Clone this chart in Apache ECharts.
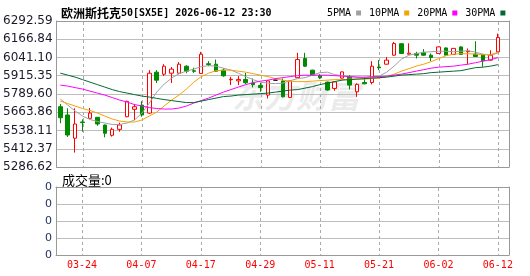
<!DOCTYPE html>
<html><head><meta charset="utf-8">
<script src="https://cdn.jsdelivr.net/npm/echarts@6/dist/echarts.min.js"></script>
<style>html,body{margin:0;padding:0;background:#fff}#c{width:530px;height:276px}</style>
</head><body><div id="c"></div>
<script>
const dates = ['03-19','03-20','03-23','03-24','03-25','03-26','03-27','03-30','03-31','04-01','04-02','04-07','04-08','04-09','04-10','04-13','04-14','04-15','04-16','04-17','04-20','04-21','04-22','04-23','04-24','04-27','04-28','04-29','04-30','05-01','05-04','05-05','05-06','05-07','05-08','05-11','05-12','05-13','05-14','05-15','05-18','05-19','05-20','05-21','05-22','05-25','05-26','05-27','05-28','05-29','06-01','06-02','06-03','06-04','06-05','06-08','06-09','06-10','06-11','06-12'];
const labelDates = ['03-24','04-07','04-17','04-29','05-11','05-21','06-02','06-12'];
// [open, close, low, high]
const ohlc = [
[5702,5626,5588,5720],[5645,5507,5494,5691],[5485,5583,5386,5691],[5597,5592,5530,5615],[5622,5658,5620,5693],
[5629,5583,5571,5631],[5576,5519,5491,5579],[5505,5546,5496,5558],[5546,5576,5530,5592],[5633,5739,5630,5744],
[5684,5702,5610,5720],[5713,5645,5633,5740],[5658,5933,5652,5954],[5940,5885,5865,5954],[5926,5981,5913,5995],
[5933,5961,5865,5975],[5933,5995,5926,6009],[5981,5947,5933,5988],[5950,5946,5935,5971],[5931,6064,5930,6080],
[5998,5993,5981,6016],[5995,5947,5944,6027],[5954,5915,5908,5966],[5888,5891,5851,5908],[5880,5890,5851,5913],
[5890,5867,5858,5935],[5865,5854,5835,5897],[5849,5834,5805,5867],[5782,5880,5759,5883],[5885,5885,5885,5885],
[5880,5770,5766,5897],[5766,5880,5765,5885],[5902,6027,5899,6073],[6034,5981,5977,6073],[5954,5920,5916,5957],
[5917,5902,5892,5926],[5871,5817,5813,5875],[5828,5873,5812,5875],[5899,5942,5896,5944],[5908,5851,5821,5920],
[5805,5856,5770,5863],[5869,5860,5856,5908],[5869,5981,5856,6016],[5975,5970,5954,6023],[5995,6023,5993,6045],
[6057,6137,6053,6148],[6136,6069,6067,6139],[6064,6071,6062,6139],[6069,6057,6034,6080],[6076,6057,6053,6099],
[6057,6041,6016,6069],[6069,6114,6067,6117],[6107,6057,6055,6110],[6062,6104,6060,6106],[6114,6062,6060,6117],
[6081,6086,5993,6103],[6065,6048,6045,6153],[6062,6019,5977,6064],[6023,6057,6020,6091],[6080,6179,6079,6206]
];
const ma5 = [5754.7,5713.4,5672.2,5637.9,5613.8,5600.1,5589.8,5579.5,5579.5,5589.8,5610.4,5658.5,5727.2,5802.7,5857.7,5898.9,5929.8,5947.0,5960.8,5978.0,5984.8,5981.4,5967.6,5953.9,5933.3,5909.3,5888.6,5871.4,5864.6,5861.1,5864.6,5881.8,5895.5,5902.3,5919.5,5936.7,5940.1,5923.0,5916.1,5909.3,5905.8,5902.3,5902.3,5912.7,5940.1,5981.4,6029.5,6056.9,6067.2,6077.5,6081.0,6084.4,6084.4,6081.0,6084.4,6087.8,6077.5,6063.8,6056.9,6070.7];
const ma10 = [5740.9,5723.7,5706.6,5689.4,5675.6,5658.5,5637.9,5617.3,5603.5,5596.6,5596.6,5610.4,5637.9,5665.3,5706.6,5747.8,5782.1,5823.4,5871.4,5909.3,5933.3,5950.4,5953.9,5953.9,5947.0,5940.1,5929.8,5919.5,5909.3,5895.5,5885.2,5878.3,5874.8,5874.8,5878.3,5881.8,5885.2,5888.6,5888.6,5892.1,5892.1,5892.1,5895.5,5898.9,5909.3,5926.4,5947.0,5964.2,5981.4,5995.1,6012.3,6032.9,6053.5,6063.8,6067.2,6067.2,6063.8,6060.3,6060.3,6077.5];
const ma20 = [5850.8,5844.0,5833.6,5823.4,5809.6,5795.9,5782.1,5765.0,5747.8,5734.0,5716.8,5706.6,5696.2,5689.4,5686.0,5686.0,5692.8,5706.6,5727.2,5744.3,5761.5,5782.1,5802.7,5819.9,5837.1,5854.2,5868.0,5878.3,5885.2,5895.5,5902.3,5909.3,5916.1,5919.5,5919.5,5919.5,5919.5,5916.1,5912.7,5909.3,5905.8,5905.8,5909.3,5909.3,5912.7,5919.5,5926.4,5936.7,5947.0,5957.3,5967.6,5974.5,5977.9,5981.4,5988.2,5995.1,6005.4,6015.7,6026.0,6039.8];
const ma30 = [5933.3,5919.5,5905.8,5888.6,5871.4,5854.2,5837.1,5819.9,5806.2,5795.9,5785.6,5775.3,5768.4,5759.4,5751.2,5744.3,5737.4,5730.6,5730.6,5740.9,5751.2,5761.5,5771.9,5775.3,5782.1,5785.6,5789.0,5792.4,5795.9,5802.7,5809.6,5816.5,5819.9,5830.2,5840.5,5854.2,5864.6,5874.9,5885.2,5888.6,5892.1,5895.5,5898.9,5902.3,5905.8,5912.7,5919.5,5923.0,5926.4,5929.8,5936.7,5940.1,5943.6,5947.0,5950.4,5960.8,5971.1,5974.5,5981.4,5991.7];
const volumes = dates.map(() => 0);
const priceTicks = ['5286.62','5412.37','5538.11','5663.86','5789.60','5915.35','6041.10','6166.84','6292.59'];
const volTicks = ['0','0','0','0','0'];
const priceMin = 5286.62, priceMax = 6292.59, priceStep = (priceMax - priceMin) / 8;

const MONO = 'DejaVu Sans Mono';
const NUM = 'DejaVu Sans';
const CJK = 'Noto Sans CJK SC';
const axisCats = dates.concat(['']);   // one empty slot at the right edge
const BORDER = { show: true, onZero: false, lineStyle: { color: '#999999', width: 1 } };
const GRIDLINE = '#bdbdbd';

function bottomX(grid, labels) {
  return { gridIndex: grid, type: 'category', data: axisCats, position: 'bottom', boundaryGap: true,
    axisLine: BORDER, axisTick: { show: false }, splitLine: { show: false },
    axisLabel: labels || { show: false } };
}
function topX(grid) {
  return { gridIndex: grid, type: 'category', data: axisCats, position: 'top', boundaryGap: true,
    axisLine: BORDER, axisTick: { show: false }, axisLabel: { show: false }, splitLine: { show: false } };
}
// vertical dashed guide at each labelled date, built from short solid segments
function guideSeries(xi, yi, baseVal) {
  return { type: 'custom', xAxisIndex: xi, yAxisIndex: yi, silent: true, z: 1, clip: false,
    data: labelDates.map(d => [d, baseVal]), encode: { x: 0, y: 1 },
    renderItem: function (params, api) {
      const cs = params.coordSys;
      const x = Math.round(api.coord([api.value(0), api.value(1)])[0]) + 0.5;
      const kids = [];
      for (let y = cs.y + 1; y < cs.y + cs.height; y += 6) {
        kids.push({ type: 'line', shape: { x1: x, y1: y, x2: x, y2: Math.min(y + 3, cs.y + cs.height) },
          style: { stroke: '#aaaaaa', lineWidth: 1 } });
      }
      return { type: 'group', children: kids };
    } };
}

const chart = echarts.init(document.getElementById('c'));
chart.setOption({
  animation: false,
  title: [
    { text: '{a|欧洲斯托克}{b|50[SX5E] 2026-06-12 23:30}', left: 56, top: 2,
      textStyle: { rich: { a: { fontFamily: CJK, fontSize: 12, color: '#000' }, b: { fontFamily: MONO, fontSize: 10, color: '#000' } } } },
    { text: '成交量:0', left: 57, top: 169, textStyle: { fontFamily: CJK, fontSize: 13, fontWeight: 'normal', color: '#000' } }
  ],
  legend: {
    data: ['5PMA', '10PMA', '20PMA', '30PMA'], left: 322, top: 3, align: 'right', icon: 'rect',
    itemWidth: 5, itemHeight: 5, itemGap: 8, selectedMode: false,
    textStyle: { fontFamily: MONO, fontSize: 10, color: '#000' }
  },
  graphic: [
    { type: 'text', left: 232, top: 80, z: 0, silent: true,
      style: { text: '东方财富', fontSize: 32, fontWeight: 'bold', fontStyle: 'italic', fontFamily: CJK, fill: '#ebebeb' } }
  ],
  grid: [
    { left: 56, top: 21, width: 453, height: 146 },
    { left: 56, top: 187, width: 453, height: 68 }
  ],
  xAxis: [
    bottomX(0),
    topX(0),
    bottomX(1, { show: true, interval: (i, v) => labelDates.indexOf(v) >= 0, color: '#ff0000', fontFamily: MONO, fontSize: 10, margin: 5 }),
    topX(1)
  ],
  yAxis: [
    { gridIndex: 0, type: 'value', position: 'left', min: priceMin, max: priceMax, interval: priceStep,
      axisLine: BORDER, axisTick: { show: false },
      splitLine: { show: true, lineStyle: { color: GRIDLINE, width: 1 } },
      axisLabel: { margin: 4, color: '#1a1a2a', fontFamily: NUM, fontSize: 12,
        formatter: v => priceTicks[Math.round((v - priceMin) / priceStep)] } },
    { gridIndex: 0, type: 'value', position: 'right', min: priceMin, max: priceMax, interval: priceStep,
      axisLine: BORDER, axisTick: { show: false }, axisLabel: { show: false }, splitLine: { show: false } },
    { gridIndex: 1, type: 'value', position: 'left', min: 0, max: 4, interval: 1,
      axisLine: BORDER, axisTick: { show: false },
      splitLine: { show: true, lineStyle: { color: GRIDLINE, width: 1 } },
      axisLabel: { margin: 4, color: '#1c2c5a', fontFamily: NUM, fontSize: 11,
        formatter: v => volTicks[Math.round(v)] } },
    { gridIndex: 1, type: 'value', position: 'right', min: 0, max: 4, interval: 1,
      axisLine: BORDER, axisTick: { show: false }, axisLabel: { show: false }, splitLine: { show: false } }
  ],
  series: [
    guideSeries(0, 0, priceMin),
    guideSeries(2, 2, 0),
    { type: 'candlestick', name: 'K', xAxisIndex: 0, yAxisIndex: 0, data: ohlc, barWidth: 4,
      itemStyle: { color: '#ffffff', color0: '#008a00', borderColor: '#ff0000', borderColor0: '#008a00', borderColorDoji: '#000000', borderWidth: 1 } },
    { type: 'line', name: '5PMA', xAxisIndex: 0, yAxisIndex: 0, data: ma5, symbol: 'none', color: '#a0a0a0', lineStyle: { width: 1, color: '#a0a0a0' } },
    { type: 'line', name: '10PMA', xAxisIndex: 0, yAxisIndex: 0, data: ma10, symbol: 'none', color: '#f5a300', lineStyle: { width: 1, color: '#f5a300' } },
    { type: 'line', name: '20PMA', xAxisIndex: 0, yAxisIndex: 0, data: ma20, symbol: 'none', color: '#ff00ff', lineStyle: { width: 1, color: '#ff00ff' } },
    { type: 'line', name: '30PMA', xAxisIndex: 0, yAxisIndex: 0, data: ma30, symbol: 'none', color: '#006a30', lineStyle: { width: 1, color: '#006a30' } },
    { type: 'bar', name: 'VOL', xAxisIndex: 2, yAxisIndex: 2, data: volumes, barWidth: 4, itemStyle: { color: '#008a00' } }
  ]
});
</script>
</body></html>
